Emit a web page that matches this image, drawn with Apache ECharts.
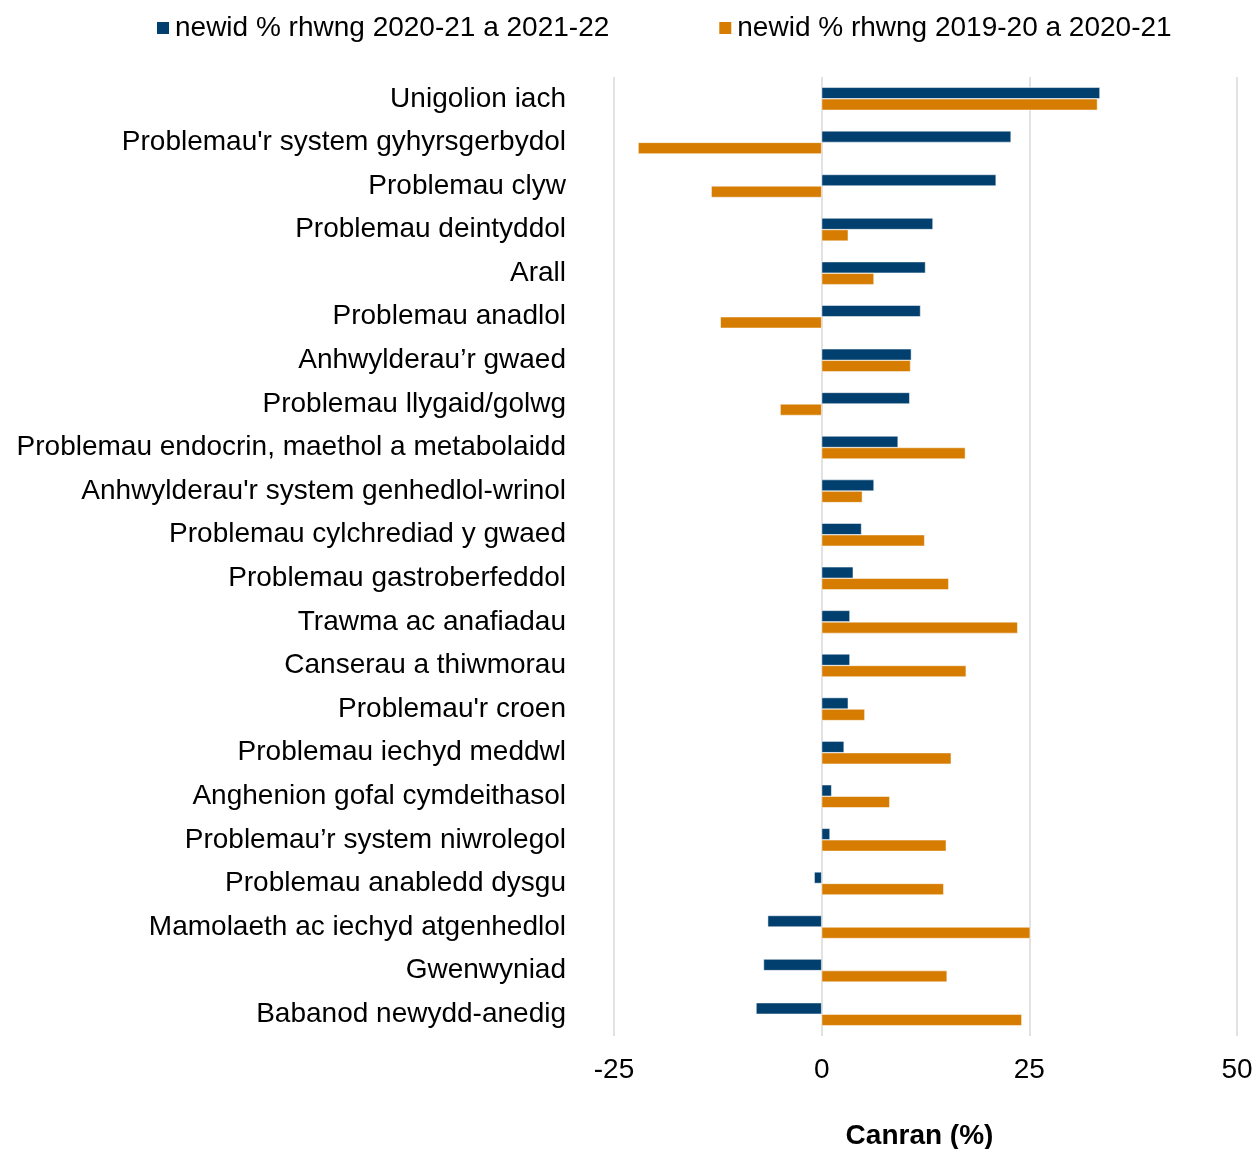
<!DOCTYPE html>
<html>
<head>
<meta charset="utf-8">
<script src="https://cdn.jsdelivr.net/npm/echarts@6/dist/echarts.min.js"></script>
<style>
    html, body { margin: 0; padding: 0; background: #fff; }
    #chart { width: 1254px; height: 1149px; }
</style>
</head>
<body>
<div id="chart"></div>
<script>
var categories = [
    'Unigolion iach',
    "Problemau'r system gyhyrsgerbydol",
    'Problemau clyw',
    'Problemau deintyddol',
    'Arall',
    'Problemau anadlol',
    'Anhwylderau\u2019r gwaed',
    'Problemau llygaid/golwg',
    'Problemau endocrin, maethol a metabolaidd',
    "Anhwylderau'r system genhedlol-wrinol",
    'Problemau cylchrediad y gwaed',
    'Problemau gastroberfeddol',
    'Trawma ac anafiadau',
    'Canserau a thiwmorau',
    "Problemau'r croen",
    'Problemau iechyd meddwl',
    'Anghenion gofal cymdeithasol',
    'Problemau\u2019r system niwrolegol',
    'Problemau anabledd dysgu',
    'Mamolaeth ac iechyd atgenhedlol',
    'Gwenwyniad',
    'Babanod newydd-anedig'
]

var seriesNames = ['newid % rhwng 2020-21 a 2021-22', 'newid % rhwng 2019-20 a 2020-21']

// newid % rhwng 2020-21 a 2021-22
var change2122 = [33.5, 22.8, 21.0, 13.4, 12.5, 11.9, 10.8, 10.6, 9.2, 6.3, 4.8,
    3.8, 3.4, 3.4, 3.2, 2.7, 1.2, 1.0, -0.9, -6.5, -7.0, -7.9]

// newid % rhwng 2019-20 a 2020-21
var change2021 = [33.2, -22.1, -13.3, 3.2, 6.3, -12.2, 10.7, -5.0, 17.3, 4.9, 12.4,
    15.3, 23.6, 17.4, 5.2, 15.6, 8.2, 15.0, 14.7, 25.1, 15.1, 24.1]

var xTicks = [-25, 0, 25, 50]

var chart = echarts.init(document.getElementById('chart'))
var font = '"Liberation Sans", Arial, sans-serif'

chart.setOption({
    animation: false,
    textStyle: { fontFamily: font },
    color: ['#003F6E', '#D67C00'],
    legend: {
        top: 9,
        left: 150,
        itemWidth: 14,
        itemHeight: 14,
        itemGap: 108,
        icon: 'rect',
        textStyle: { fontSize: 28, color: '#000', fontFamily: font },
        data: seriesNames
    },
    grid: {
        left: 614,
        right: 17,
        top: 77,
        bottom: 113,
        outerBoundsMode: 'none',
        containLabel: false
    },
    xAxis: {
        type: 'value',
        min: xTicks[0],
        max: xTicks[xTicks.length - 1],
        interval: 25,
        name: 'Canran (%)',
        nameLocation: 'middle',
        nameGap: 86,
        nameTextStyle: { fontSize: 28, fontWeight: 'bold', color: '#000', fontFamily: font, padding: [0, 12, 0, 0] },
        axisLine: { show: false },
        axisTick: { show: false },
        axisLabel: { fontSize: 28, color: '#000', margin: 20, fontFamily: font },
        splitLine: { show: true, lineStyle: { color: '#d9d9d9', width: 1.5 } }
    },
    yAxis: {
        type: 'category',
        inverse: true,
        data: categories,
        axisLine: { show: false },
        axisTick: { show: false },
        axisLabel: { fontSize: 28, color: '#000', margin: 48, fontFamily: font }
    },
    series: [{
        name: seriesNames[0],
        type: 'bar',
        data: change2122,
        barWidth: 11.5,
        barGap: '0%',
        itemStyle: { borderColor: '#ffffff', borderWidth: 0.5 }
    }, {
        name: seriesNames[1],
        type: 'bar',
        data: change2021,
        barWidth: 11.5,
        barGap: '0%',
        itemStyle: { borderColor: '#ffffff', borderWidth: 0.5 }
    }]
})
</script>
</body>
</html>
